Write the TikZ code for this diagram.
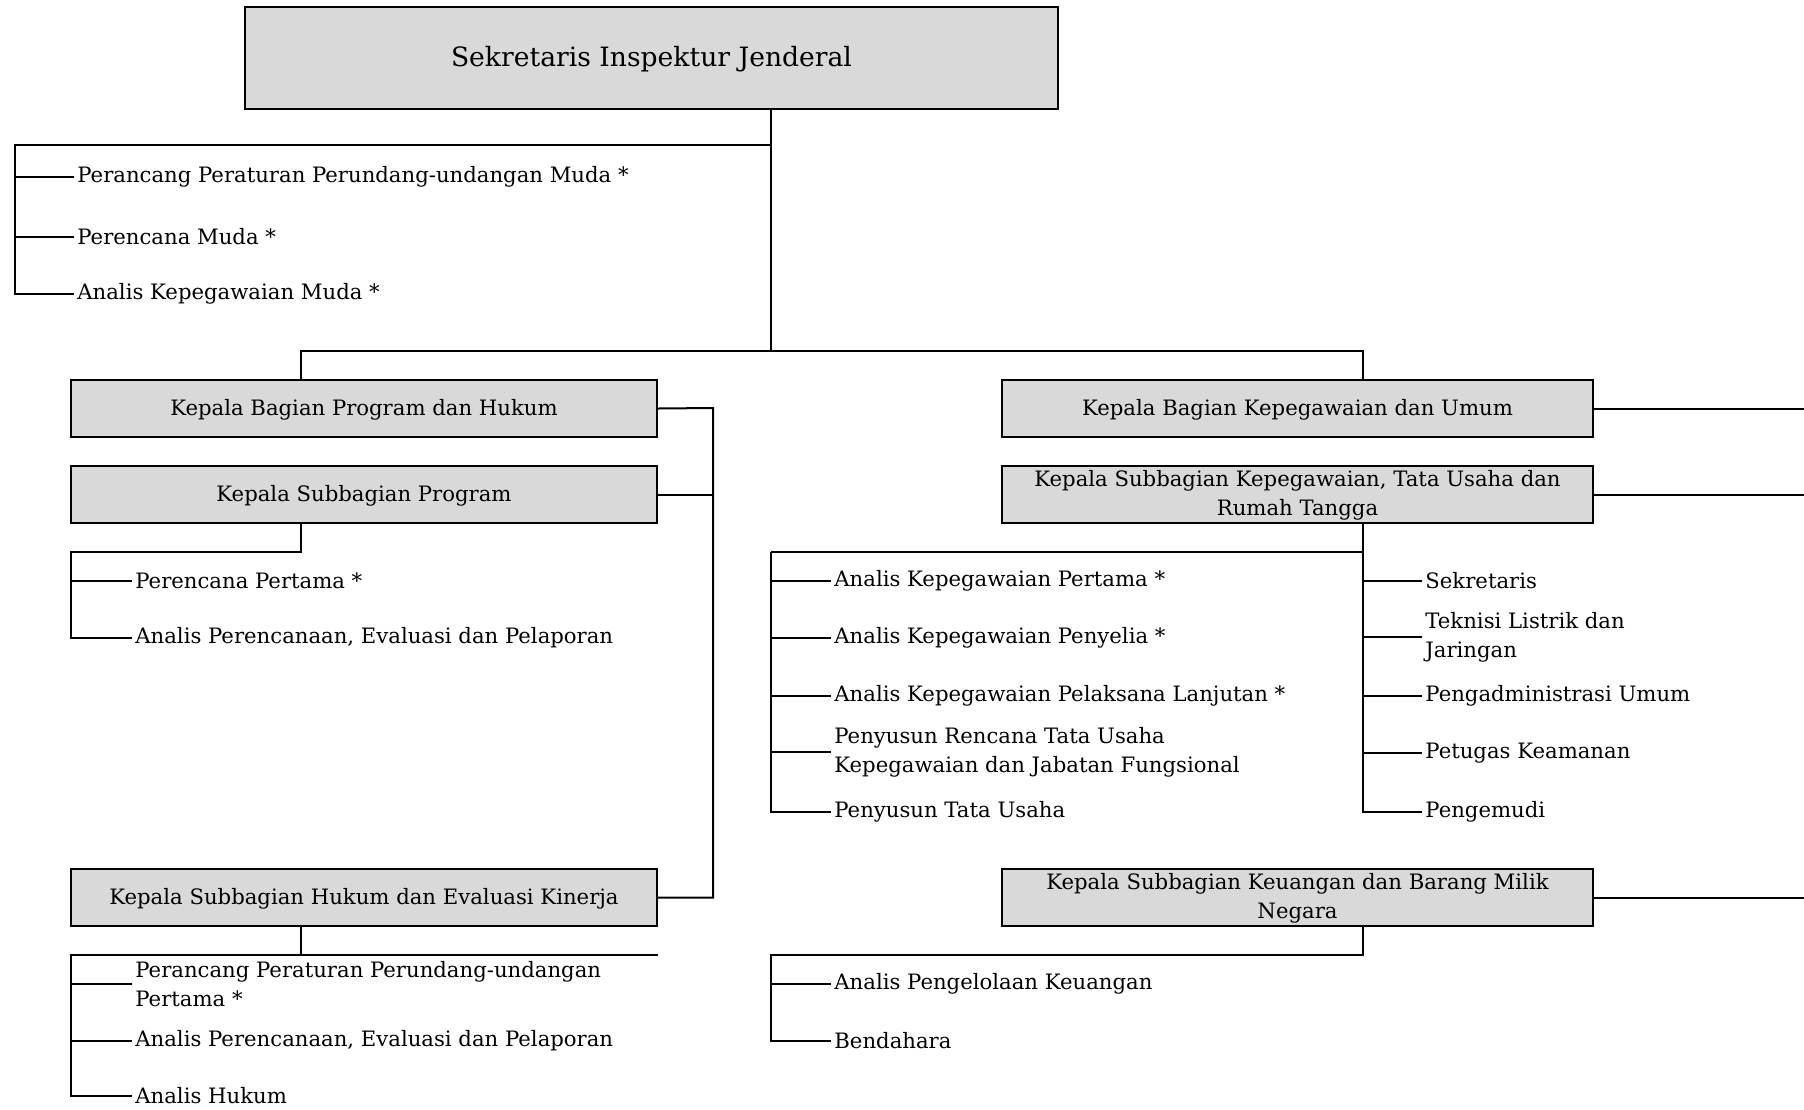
\documentclass[tikz,border=0pt]{standalone}
\usepackage{fontspec}
\setmainfont{DejaVu Serif}
\usetikzlibrary{positioning,calc}

\begin{document}
\begin{tikzpicture}[x=0.5pt, y=-0.5pt, font=\fontsize{10.6}{14.4}\selectfont,
  box/.style={draw=black, line width=1.2pt, fill=black!15, align=center, minimum width=293pt, minimum height=28.5pt, inner sep=2pt, text depth=1.5pt},
  topbox/.style={box, minimum width=406.5pt, minimum height=51pt, font=\fontsize{13.3}{15}\selectfont},
  item/.style={anchor=west, align=left, inner sep=1.5pt},
  link/.style={draw=black, line width=1pt}]
\useasboundingbox (0,0) rectangle (1804,1109);
% boxes
\node[topbox] (sekre) at (651.5,58) {Sekretaris Inspektur Jenderal};
\node[box] (kbph) at (364,408.5) {Kepala Bagian Program dan Hukum};
\node[box] (ksp) at (364,494.5) {Kepala Subbagian Program};
\node[box] (ksh) at (364,897.5) {Kepala Subbagian Hukum dan Evaluasi Kinerja};
\node[box, minimum width=295.5pt] (kbku) at (1297.5,408.5) {Kepala Bagian Kepegawaian dan Umum};
\node[box, minimum width=295.5pt] (ksktu) at (1297.5,494.5) {Kepala Subbagian Kepegawaian, Tata Usaha dan\\Rumah Tangga};
\node[box, minimum width=295.5pt] (kskb) at (1297.5,897.5) {Kepala Subbagian Keuangan dan Barang Milik\\Negara};
% junctions
\coordinate (fork) at (771,145); \coordinate (sp1) at (15,145);
\coordinate (trunk) at (771,351); \coordinate (lbar) at (301,351); \coordinate (rbar) at (1363,351);
\coordinate (rail) at (713,408); \coordinate (edge) at (1804,408);
\coordinate (sp2) at (71,552); \coordinate (sp3) at (71,955);
\coordinate (sp4) at (771,552); \coordinate (sp5) at (1363,552); \coordinate (sp6) at (771,955);
% jabatan fungsional
\node[item] (jf1) at (74,177) {Perancang Peraturan Perundang-undangan Muda *};
\node[item] (jf2) at (74,237) {Perencana Muda *};
\node[item] (jf3) at (74,294) {Analis Kepegawaian Muda *};
\node[item] (pr1) at (132,581) {Perencana Pertama *};
\node[item] (pr2) at (132,638) {Analis Perencanaan, Evaluasi dan Pelaporan};
\node[item] (hk1) at (132,984) {Perancang Peraturan Perundang-undangan\\Pertama *};
\node[item] (hk2) at (132,1041) {Analis Perencanaan, Evaluasi dan Pelaporan};
\node[item] (hk3) at (132,1096) {Analis Hukum};
\node[item] (kp1) at (831,581) {Analis Kepegawaian Pertama *};
\node[item] (kp2) at (831,638) {Analis Kepegawaian Penyelia *};
\node[item] (kp3) at (831,696) {Analis Kepegawaian Pelaksana Lanjutan *};
\node[item] (kp4) at (831,752) {Penyusun Rencana Tata Usaha\\Kepegawaian dan Jabatan Fungsional};
\node[item] (kp5) at (831,812) {Penyusun Tata Usaha};
\node[item] (um1) at (1422,581) {Sekretaris};
\node[item] (um2) at (1422,637) {Teknisi Listrik dan\\Jaringan};
\node[item] (um3) at (1422,696) {Pengadministrasi Umum};
\node[item] (um4) at (1422,753) {Petugas Keamanan};
\node[item] (um5) at (1422,812) {Pengemudi};
\node[item] (ku1) at (831,984) {Analis Pengelolaan Keuangan};
\node[item] (ku2) at (831,1041) {Bendahara};
% connectors
\draw[link] (sekre.south -| trunk) -- (trunk);
\draw[link] (fork) -- (sp1) |- (jf3.west);
\foreach \n in {jf1,jf2} \draw[link] (\n.west -| sp1) -- (\n.west);
\draw[link] (lbar |- kbph.north) -- (lbar) -- (rbar) -- (rbar |- kbku.north);
\draw[link] (kbph.east) -- (rail) |- (ksh.east);
\draw[link] (ksp.east) -- (ksp.east -| rail);
\draw[link] (ksp.south -| lbar) -- (lbar |- sp2) -- (sp2) |- (pr2.west);
\draw[link] (pr1.west -| sp2) -- (pr1.west);
\draw[link] (ksh.south -| lbar) -- (lbar |- sp3);
\draw[link] (ksh.east |- sp3) -- (sp3) |- (hk3.west);
\foreach \n in {hk1,hk2} \draw[link] (\n.west -| sp3) -- (\n.west);
\foreach \n in {kbku,ksktu,kskb} \draw[link] (\n.east) -- (\n.east -| edge);
\draw[link] (sp4) |- (kp5.west);
\draw[link] (sp4) -- (sp5);
\draw[link] (ksktu.south -| sp5) -- (sp5) |- (um5.west);
\foreach \n in {kp1,kp2,kp3,kp4} \draw[link] (\n.west -| sp4) -- (\n.west);
\foreach \n in {um1,um2,um3,um4} \draw[link] (\n.west -| sp5) -- (\n.west);
\draw[link] (kskb.south -| sp5) -- (sp5 |- sp6) -- (sp6) |- (ku2.west);
\draw[link] (ku1.west -| sp6) -- (ku1.west);
\end{tikzpicture}
\end{document}
